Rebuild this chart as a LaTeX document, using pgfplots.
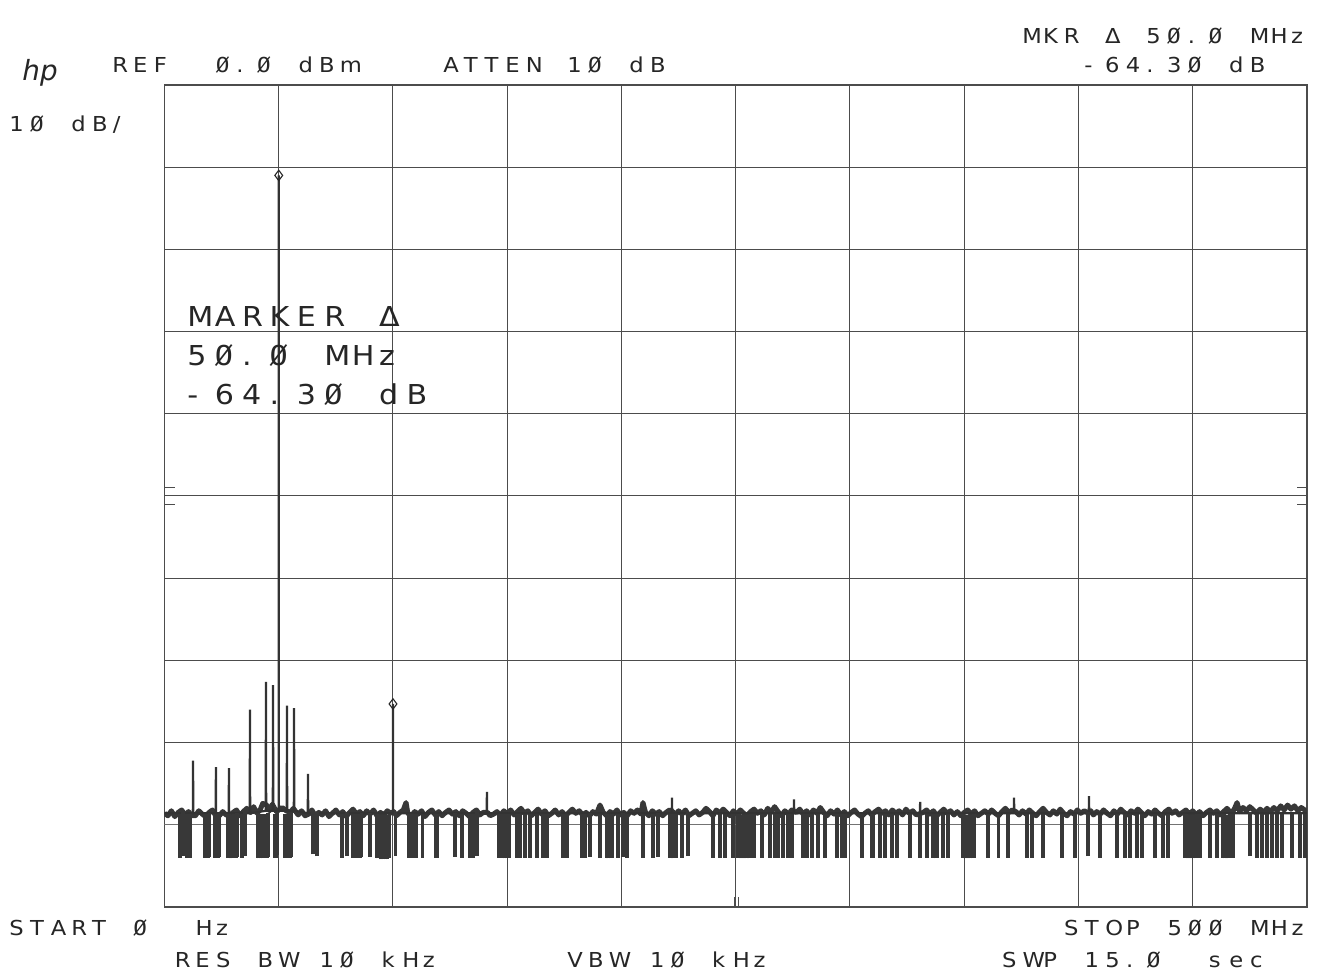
\documentclass[border=0pt]{standalone}
\usepackage{pgfplots}
\usepackage{pgfplotstable}
\pgfplotsset{compat=1.18}
\usepackage{fontspec}
\setmainfont{DejaVu Sans}
\newfontfamily\hpfont{DejaVu Sans}[FakeStretch=1.1]
\newfontfamily\hpmono{DejaVu Sans Mono}[FakeStretch=1.1]
\newdimen\hpadv
\def\hpstr#1{\hpstrloop#1\relax}
\def\hpstrloop#1{\ifx\relax#1\else\ifx*#1\hbox to\hpadv{}\else\ifx Ø#1\hbox to\hpadv{{\hpmono Ø}\hss}\else\hbox to\hpadv{#1\hss}\fi\fi\expandafter\hpstrloop\fi}
\newcommand\toptext[3]{\node[anchor=base west,inner sep=0pt,text=black!85,font=\hpfont\fontsize{10.3}{12}\selectfont] at (#1,#2) {\hpadv=10.34pt\hpstr{#3}};}
\newcommand\bigtext[3]{\node[anchor=base west,inner sep=0pt,text=black!85,font=\hpfont\fontsize{13.7}{16}\selectfont] at (#1,#2) {\hpadv=13.7pt\hpstr{#3}};}
\pgfdeclareplotmark{spike}{\pgfpathmoveto{\pgfpointorigin}\pgfpathlineto{\pgfqpoint{0pt}{21.8pt}}\pgfusepathqstroke}

\pgfplotstableread{
f y
6.8 -94.0
8.1 -93.8
9.8 -94.0
11.2 -94.0
17.7 -94.0
18.2 -94.0
18.7 -94.0
19.2 -94.0
19.7 -93.9
22.1 -94.0
22.6 -94.0
23.1 -94.0
23.6 -94.0
24.1 -93.9
27.8 -94.0
28.3 -94.0
28.8 -94.1
29.3 -94.1
29.8 -94.1
30.3 -94.0
30.8 -94.0
31.3 -94.0
31.7 -93.9
33.9 -94.0
35.2 -93.8
40.9 -94.0
41.4 -94.1
41.9 -94.1
42.4 -94.0
42.9 -94.1
43.4 -94.0
43.9 -94.0
44.9 -94.0
45.3 -93.9
48.4 -94.0
48.9 -94.0
49.4 -93.7
52.7 -94.0
53.2 -94.0
54.2 -94.0
54.7 -94.0
55.2 -94.0
55.7 -93.9
65.0 -93.6
66.7 -93.8
77.7 -94.0
79.9 -93.8
82.5 -94.0
84.2 -94.0
84.7 -94.0
85.2 -94.0
85.7 -94.0
86.2 -93.9
89.9 -93.9
93.0 -94.0
93.5 -94.1
94.0 -94.1
94.5 -94.2
95.0 -94.2
95.5 -94.2
96.0 -94.2
96.5 -94.1
97.0 -94.2
97.5 -94.2
98.0 -94.1
98.5 -94.0
101.0 -93.8
107.0 -94.0
108.8 -94.0
110.1 -94.0
112.8 -94.0
118.6 -94.0
119.4 -94.0
127.1 -93.9
130.2 -94.0
133.7 -94.0
135.0 -94.0
136.8 -93.8
146.4 -94.0
148.1 -94.0
148.6 -94.0
149.1 -94.1
149.6 -94.1
150.1 -94.0
150.6 -94.0
151.1 -94.0
154.3 -94.0
155.6 -94.0
157.8 -94.0
160.0 -94.0
163.1 -94.0
165.7 -94.0
167.4 -94.0
174.4 -94.0
176.1 -94.0
182.7 -94.0
184.0 -94.0
186.2 -93.9
190.6 -94.0
193.6 -94.0
194.1 -94.1
194.6 -94.1
195.1 -94.1
195.6 -94.0
196.1 -94.0
198.5 -94.0
200.7 -93.9
202.4 -94.0
209.4 -94.0
213.8 -94.0
216.0 -93.9
221.2 -94.0
221.7 -94.0
222.2 -94.1
222.7 -94.1
223.2 -94.0
223.7 -94.0
224.2 -94.0
226.5 -94.0
229.1 -93.8
240.0 -94.0
243.1 -94.0
245.3 -94.0
248.8 -94.0
251.0 -94.0
251.5 -94.0
252.0 -94.1
252.5 -94.1
253.0 -94.1
253.5 -94.1
254.0 -94.1
254.5 -94.1
255.0 -94.1
255.5 -94.1
256.0 -94.1
256.5 -94.0
257.0 -94.0
257.5 -94.0
258.0 -94.0
261.5 -94.0
265.0 -94.0
267.2 -94.0
268.5 -94.0
270.7 -94.0
272.9 -94.0
274.6 -94.0
279.4 -94.0
281.2 -94.0
283.4 -94.0
286.0 -94.0
289.1 -94.0
294.3 -94.0
296.5 -94.0
297.8 -94.0
305.3 -94.0
309.7 -94.0
310.1 -94.0
313.1 -94.0
315.3 -94.0
318.4 -94.0
320.6 -94.0
326.3 -94.0
330.7 -94.0
333.7 -94.0
336.4 -94.0
336.9 -94.0
337.4 -94.1
337.9 -94.0
338.4 -94.0
340.7 -94.0
342.9 -94.0
349.5 -94.0
350.0 -94.1
350.5 -94.1
351.0 -94.1
351.5 -94.1
352.0 -94.1
352.5 -94.1
353.0 -94.1
353.5 -94.1
354.0 -94.0
354.5 -94.0
360.4 -94.0
365.0 -94.0
369.1 -94.0
377.5 -94.0
379.7 -94.0
384.5 -94.0
392.8 -94.0
398.5 -94.0
404.2 -93.8
409.4 -94.0
416.9 -94.0
420.4 -94.0
422.5 -94.0
425.6 -94.0
427.8 -94.0
433.5 -94.0
437.0 -94.0
439.2 -94.0
446.6 -94.0
447.1 -94.0
447.6 -94.1
448.1 -94.1
448.6 -94.1
449.1 -94.1
449.6 -94.1
450.1 -94.1
450.6 -94.1
451.1 -94.1
451.6 -94.0
452.1 -94.0
452.6 -94.0
453.1 -94.0
457.5 -94.0
460.6 -94.0
463.2 -94.0
463.7 -94.0
464.2 -94.1
464.7 -94.1
465.2 -94.1
465.7 -94.1
466.2 -94.0
466.7 -94.0
467.2 -94.0
467.7 -94.0
475.1 -93.8
478.1 -94.0
480.3 -94.0
482.5 -94.0
484.7 -94.0
486.9 -94.0
489.1 -94.0
493.5 -94.0
497.0 -94.0
499.2 -94.0
}\spikes

\begin{document}
\begin{tikzpicture}
\useasboundingbox (0,0) rectangle (659.5pt,489pt);
\fill[white] (0,0) rectangle (659.5pt,489pt);
\begin{axis}[
  at={(82.25pt,35.5pt)}, anchor=south west,
  scale only axis, width=571.25pt, height=411pt,
  xmin=0, xmax=500, ymin=-100, ymax=0,
  xtick={0,50,...,500}, ytick={-100,-90,...,0},
  xticklabels={}, yticklabels={},
  major tick length=0pt,
  grid=major,
  major grid style={line width=0.5pt, black!70},
  axis line style={line width=0.55pt, black!70},
]
% display line
\addplot[black!55, line width=0.4pt] coordinates {(0,-89.9) (500,-89.9)};
% downward noise spikes (bottom of each dip)
\addplot[only marks, mark=spike, mark options={draw=black!78, line width=1.7pt}] table[x=f,y=y] {\spikes};
% noise floor of the trace
\addplot[black!78, line width=2.5pt, line join=round] coordinates {
(0,-88.6) (1.5,-88.9) (3,-88.3) (4.5,-89.0) (6,-88.5) (7.5,-88.2) (9,-88.8) (10.5,-88.4)
(12,-88.9) (13.5,-88.9) (15,-88.3) (16.5,-88.7)
(18,-89.0) (19.5,-88.5) (21,-88.2) (22.2,-88.8) (24,-88.9)
(25.5,-88.4) (27,-88.8) (28.5,-88.9) (30,-88.5) (31.5,-88.2)
(33,-88.9) (34.5,-88.4) (36,-88.0) (37.7,-88.5) (39,-87.8)
(40.5,-88.6) (42,-88.1) (43,-87.4) (44.7,-87.6) (46,-88.3)
(47.2,-87.5) (49,-88.4) (51.5,-87.9) (53.3,-88.3) (55,-88.5) (56.4,-88.0)
(58.5,-88.8) (60,-88.3) (61.5,-88.9) (63.1,-88.7)
(64.5,-88.2) (66,-88.9) (67.5,-88.5) (69,-88.8) (70.5,-88.3) (72,-89.0) (73.5,-88.6)
(75,-88.2) (76.5,-88.8) (78,-88.4) (79.5,-89.0) (81,-88.5) (82.5,-88.1) (84,-88.7)
(85.5,-88.4) (87,-88.9) (88.5,-88.3) (90,-88.7) (91.5,-88.2) (93,-88.9) (94.5,-88.5)
(96,-88.8) (97.5,-88.3) (99,-88.6) (100.3,-88.4) (101.5,-88.9)
(103,-88.5) (104.5,-88.2) (105.7,-87.3) (106.5,-88.6) (108,-88.9) (109.5,-88.4) (111,-88.7)
(112.5,-88.3) (114,-89.0) (115.5,-88.5) (117,-88.2) (118.5,-88.8) (120,-88.4) (121.5,-88.9)
(123,-88.5) (124.5,-88.2) (126,-88.7) (127.5,-88.4) (129,-88.9) (130.5,-88.3) (132,-88.6)
(133.5,-89.0) (135,-88.5) (136.5,-88.2) (138,-88.8) (139.5,-88.5) (141.4,-88.5) (142.5,-88.9)
(144,-88.7) (145.5,-88.4) (147,-88.9) (148.5,-88.3) (150,-88.7)
(151.5,-88.2) (153,-88.8) (154.5,-88.4) (156,-88.0) (157.5,-88.6) (159,-88.3) (160.5,-88.9)
(162,-88.5) (163.5,-88.1) (165,-88.7) (166.5,-88.3) (168,-88.9) (169.5,-88.6) (171,-88.2)
(172.5,-88.8) (174,-88.4) (175.5,-88.9) (177,-88.5) (178.5,-88.1) (180,-88.6) (181.5,-88.3)
(183,-88.8) (184.5,-88.5) (186,-88.9) (187.5,-88.4) (189,-88.7) (190.6,-87.6) (192,-88.5)
(193.5,-88.9) (195,-88.4) (196.5,-88.7) (198,-88.2) (199.5,-88.8) (201,-88.5) (202.5,-88.9)
(204,-88.3) (205.5,-88.6) (207,-88.2) (208.5,-88.7) (209.4,-87.3) (210.5,-88.5) (212,-88.9)
(213.5,-88.3) (215,-88.7) (216.5,-88.4) (218,-88.9) (219.5,-88.5) (221,-88.2) (222.4,-88.4)
(223.5,-88.8) (225,-88.3) (226.5,-88.7) (228,-88.2) (229.5,-88.9)
(231,-88.6) (232.5,-88.3) (234,-88.8) (235.5,-88.5) (237,-88.0) (238.5,-88.4) (240,-88.9)
(241.5,-88.2) (243,-88.6) (244.5,-88.1) (246,-88.5) (247.5,-88.9) (249,-88.3) (250.5,-88.7)
(252,-88.2) (253.5,-88.6) (255,-88.9) (256.5,-88.4) (258,-88.1) (259.5,-88.6) (261,-88.3)
(262.5,-88.8) (264,-88.0) (265.5,-88.5) (267,-87.8) (268.5,-88.4) (270,-88.9) (271.5,-88.3)
(273,-88.7) (274.5,-88.2) (276.5,-88.5) (278,-88.1) (279.5,-88.7) (281,-88.3)
(282.5,-88.8) (284,-88.2) (285.5,-88.6) (287,-87.9) (288.5,-88.5) (290,-88.9) (291.5,-88.3)
(293,-88.7) (294.5,-88.2) (296,-88.8) (297.5,-88.4) (299,-88.9) (300.5,-88.5) (302,-88.2)
(303.5,-88.7) (305,-89.0) (306.5,-88.6) (308,-88.3) (309.5,-88.8) (311,-88.4) (312.5,-88.1)
(314,-88.6) (315.5,-88.3) (317,-88.8) (318.5,-88.2) (320,-88.6) (321.5,-88.3) (323,-88.8)
(324.5,-88.1) (326,-88.6) (327.5,-88.3) (329,-88.8) (332,-88.5) (333.5,-88.2)
(335,-88.7) (336.5,-88.3) (338,-88.9) (339.5,-88.5) (341,-88.1) (342.5,-88.6) (344,-88.3)
(345.5,-88.8) (347,-88.4) (348.5,-88.9) (350,-88.5) (351.5,-88.2) (353,-88.7) (354.5,-88.3)
(356,-88.9) (357.5,-88.6) (359,-88.3) (360.5,-88.7) (362,-88.2) (363.5,-88.6) (365,-88.9)
(366.5,-88.4) (368,-88.0) (369.5,-88.5) (371,-88.2) (372.6,-88.4) (374,-88.8)
(375.5,-88.3) (377,-88.7) (378.5,-88.2) (380,-88.6) (381.5,-88.9) (383,-88.4) (384.5,-88.0)
(386,-88.5) (387.5,-88.8) (389,-88.3) (390.5,-88.7) (392,-88.1) (393.5,-88.6) (395,-88.9)
(396.5,-88.4) (398,-88.7) (399.5,-88.2) (401,-88.6) (402.5,-88.3) (403.8,-88.5)
(405.4,-88.3) (406.5,-88.8) (408,-88.4) (409.5,-88.7) (411,-88.2) (412.5,-88.6) (414,-88.9)
(415.5,-88.3) (417,-88.7) (418.5,-88.1) (420,-88.5) (421.5,-88.8) (423,-88.3) (424.5,-88.6)
(426,-88.1) (427.5,-88.5) (429,-88.9) (430.5,-88.4) (432,-88.7) (433.5,-88.2) (435,-88.6)
(436.5,-88.9) (438,-88.4) (439.5,-88.1) (441,-88.6) (442.5,-88.3) (444,-88.8) (445.5,-88.5)
(447,-88.2) (448.5,-88.7) (450,-88.3) (451.5,-88.8) (453,-88.4) (454.5,-88.9) (456,-88.5)
(457.5,-88.2) (459,-88.6) (460.5,-88.3) (462,-88.8) (463.5,-88.4) (465,-88.0) (466.5,-88.5)
(468,-88.2) (469.4,-87.3) (470.5,-88.4) (472,-87.9) (473.5,-88.3) (475,-87.8) (476.5,-88.2)
(478,-88.6) (479.5,-88.1) (481,-88.5) (482.5,-88.0) (484,-88.4) (485.5,-87.9) (487,-88.3)
(488.5,-87.7) (490,-88.2) (491.5,-87.6) (493,-88.1) (494.5,-87.7) (496,-88.3) (497.5,-87.9)
(499,-88.2) (500,-88.5)
};
% carrier, harmonics and spurs rising from the noise floor
\addplot[black!80, line width=1.1pt, line join=miter] coordinates {
(0,-88.6) (12.4,-88.6) (12.5,-82.2) (12.6,-88.6) (22.4,-88.6) (22.5,-83.0) (22.6,-88.6)
(28.1,-88.6) (28.2,-83.1) (28.3,-88.6) (37.3,-88.6) (37.4,-76.0) (37.5,-88.6)
(44.3,-88.3) (44.4,-72.6) (44.5,-88.3) (47.4,-88.3) (47.5,-73.0) (47.6,-88.3)
(49.95,-88.3) (50,-11.0) (50.05,-88.3) (53.5,-88.3) (53.6,-75.5) (53.7,-88.3)
(56.6,-88.3) (56.7,-75.8) (56.8,-88.3) (62.7,-88.6) (62.8,-83.8) (62.9,-88.6)
(99.95,-88.6) (100,-75.3) (100.05,-88.6) (141.0,-88.6) (141.1,-86.0) (141.2,-88.6)
(222.0,-88.6) (222.1,-86.7) (222.2,-88.6) (275.4,-88.6) (275.5,-86.9) (275.6,-88.6)
(330.6,-88.6) (330.7,-87.2) (330.8,-88.6) (371.7,-88.6) (371.8,-86.7) (371.9,-88.6)
(404.5,-88.6) (404.6,-86.5) (404.7,-88.6) (500,-88.6)
};
% markers
\addplot[only marks, mark=diamond, mark size=2.6pt, mark options={fill=white, draw=black!85, line width=0.55pt}]
  coordinates {(50,-11.0) (100,-75.3)};
% edge ticks and bottom marker
\draw[black!70, line width=0.5pt] (axis cs:0,-49) -- (axis cs:4.5,-49) (axis cs:0,-51) -- (axis cs:4.5,-51)
  (axis cs:500,-49) -- (axis cs:495.5,-49) (axis cs:500,-51) -- (axis cs:495.5,-51)
  (axis cs:249.6,-100) -- (axis cs:249.6,-98.8) (axis cs:251.0,-100) -- (axis cs:251.0,-98.8);
\end{axis}
\begin{scope}[x=0.5pt,y=0.5pt]
% header texts
\node[anchor=base west,inner sep=0pt,text=black!85,font=\fontsize{13.9}{16}\selectfont\itshape] at (22,897) {hp};
\toptext{1022}{934.5}{MKR*Δ*5Ø.Ø*MHz}
\toptext{1022}{905.5}{***-64.3Ø*dB}
\toptext{112}{905.5}{REF**Ø.Ø*dBm****ATTEN*1Ø*dB}
\toptext{9}{846}{1Ø*dB/}
% footer texts
\toptext{9}{42}{START*Ø**Hz}
\toptext{1063.7}{42}{STOP*5ØØ*MHz}
\toptext{174.4}{10}{RES*BW*1Ø*kHz}
\toptext{567}{10}{VBW*1Ø*kHz}
\toptext{1001.6}{10}{SWP*15.Ø**sec}
% marker readout inside graticule
\bigtext{187}{651}{MARKER*Δ}
\bigtext{187}{612}{5Ø.Ø*MHz}
\bigtext{187}{573}{-64.3Ø*dB}
\end{scope}
\end{tikzpicture}
\end{document}
